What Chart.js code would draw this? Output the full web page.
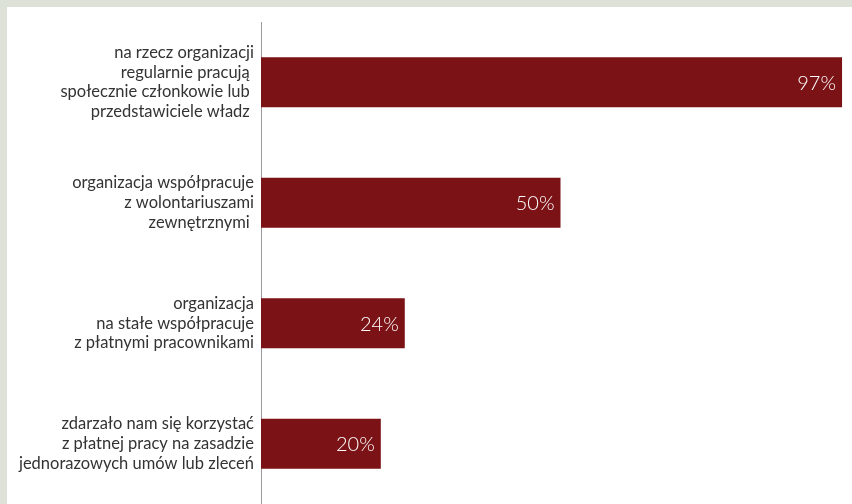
<!DOCTYPE html>
<html lang="pl">
<head>
<meta charset="utf-8">
<title>Formy pracy w organizacji</title>
<script src="https://cdn.jsdelivr.net/npm/chart.js@4"></script>
<style>
  html, body { margin: 0; padding: 0; background: #dde2d8; }
  #wrap { position: relative; width: 852px; height: 504px; overflow: hidden; }
  #panel { position: absolute; left: 7px; top: 7px; right: 0; bottom: 0; background: #ffffff; }
  #chart { position: absolute; left: 0; top: 0; }
</style>
</head>
<body>
<div id="wrap">
  <div id="panel"></div>
  <canvas id="chart" width="852" height="504"></canvas>
</div>
<script>
// Category labels, one array entry per line of text
const categories = [
  ["na rzecz organizacji", "regularnie pracują ", "społecznie członkowie lub ", "przedstawiciele władz "],
  ["organizacja współpracuje", "z wolontariuszami", "zewnętrznymi "],
  ["organizacja", "na stałe współpracuje", "z płatnymi pracownikami"],
  ["zdarzało nam się korzystać", "z płatnej pracy na zasadzie", "jednorazowych umów lub zleceń"]
];

// Share of organisations, in percent
const shares = [97, 50, 24, 20];

const barColor = "#7a1216";

// Percent labels written inside the right end of each bar
const valueLabels = {
  id: "valueLabels",
  afterDatasetsDraw(chart) {
    const ctx = chart.ctx;
    const meta = chart.getDatasetMeta(0);
    ctx.save();
    ctx.fillStyle = "#ffffff";
    ctx.font = "300 20px Lato, 'Open Sans', sans-serif";
    ctx.textAlign = "right";
    ctx.textBaseline = "middle";
    meta.data.forEach((bar, i) => {
      ctx.fillText(shares[i] + "%", bar.x - 6, bar.y + 1);
    });
    ctx.restore();
  }
};

new Chart(document.getElementById("chart"), {
  type: "bar",
  data: {
    labels: categories,
    datasets: [{
      data: shares,
      backgroundColor: barColor,
      borderWidth: 0,
      barPercentage: 0.83,
      categoryPercentage: 0.5
    }]
  },
  options: {
    indexAxis: "y",
    responsive: false,
    animation: false,
    devicePixelRatio: 1,
    layout: { padding: { left: 0, right: 0, top: 22, bottom: 0 } },
    plugins: {
      legend: { display: false },
      tooltip: { enabled: false }
    },
    scales: {
      x: {
        display: false,
        min: 0,
        max: 98.66
      },
      y: {
        grid: { display: false, drawTicks: false },
        border: { display: true, color: "#9a9a9a", width: 1 },
        ticks: {
          color: "#333333",
          padding: 7,
          font: { family: "Lato, 'Open Sans', sans-serif", size: 16.5, lineHeight: 1.2 }
        },
        afterFit(scale) {
          scale.width = 261;
          scale.paddingTop = 0;
          scale.paddingBottom = 0;
        }
      }
    }
  },
  plugins: [valueLabels]
});
</script>
</body>
</html>
